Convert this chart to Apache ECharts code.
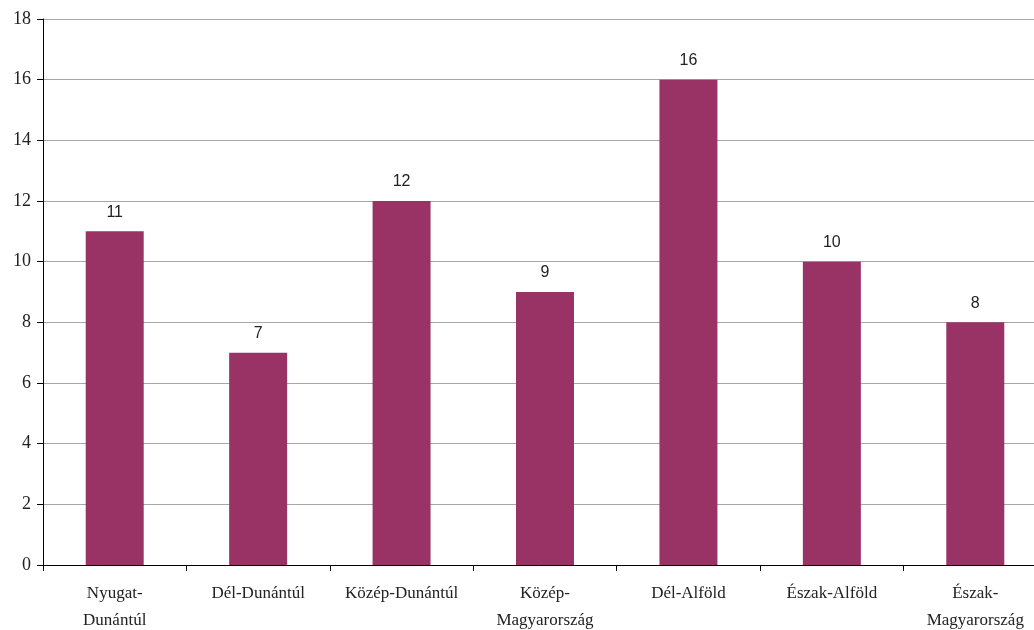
<!DOCTYPE html>
<html><head><meta charset="utf-8">
<script src="https://cdn.jsdelivr.net/npm/echarts@6/dist/echarts.min.js"></script>
<style>html,body{margin:0;padding:0;background:#fff}#c{width:1034px;height:630px}</style>
</head><body><div id="c"></div>
<script>
const categories = ["Nyugat-\nDunántúl", "Dél-Dunántúl", "Közép-Dunántúl", "Közép-\nMagyarország", "Dél-Alföld", "Észak-Alföld", "Észak-\nMagyarország"];
const values = [11, 7, 12, 9, 16, 10, 8];
const chart = echarts.init(document.getElementById('c'));
chart.setOption({
  animation: false,
  grid: {left: 43, right: -13, top: 19, bottom: 65, containLabel: false, outerBoundsMode: 'none'},
  xAxis: {
    type: 'category', data: categories,
    axisLine: {lineStyle: {color: '#000', width: 1}},
    axisTick: {show: true, length: 6, lineStyle: {color: '#000'}},
    axisLabel: {color: '#222', fontFamily: 'Liberation Serif', fontSize: 17, margin: 15, lineHeight: 27, interval: 0}
  },
  yAxis: {
    type: 'value', min: 0, max: 18, interval: 2,
    axisLine: {show: true, lineStyle: {color: '#000', width: 1}},
    axisTick: {show: true, length: 6, lineStyle: {color: '#000'}},
    axisLabel: {color: '#222', fontFamily: 'Liberation Serif', fontSize: 18, margin: 12},
    splitLine: {lineStyle: {color: '#a6a6a6', width: 1}}
  },
  series: [{
    type: 'bar', data: values, barWidth: 58,
    itemStyle: {color: '#993366'},
    label: {show: true, position: 'top', distance: 11, color: '#222', fontFamily: 'Liberation Sans', fontSize: 16}
  }]
});
</script></body></html>
